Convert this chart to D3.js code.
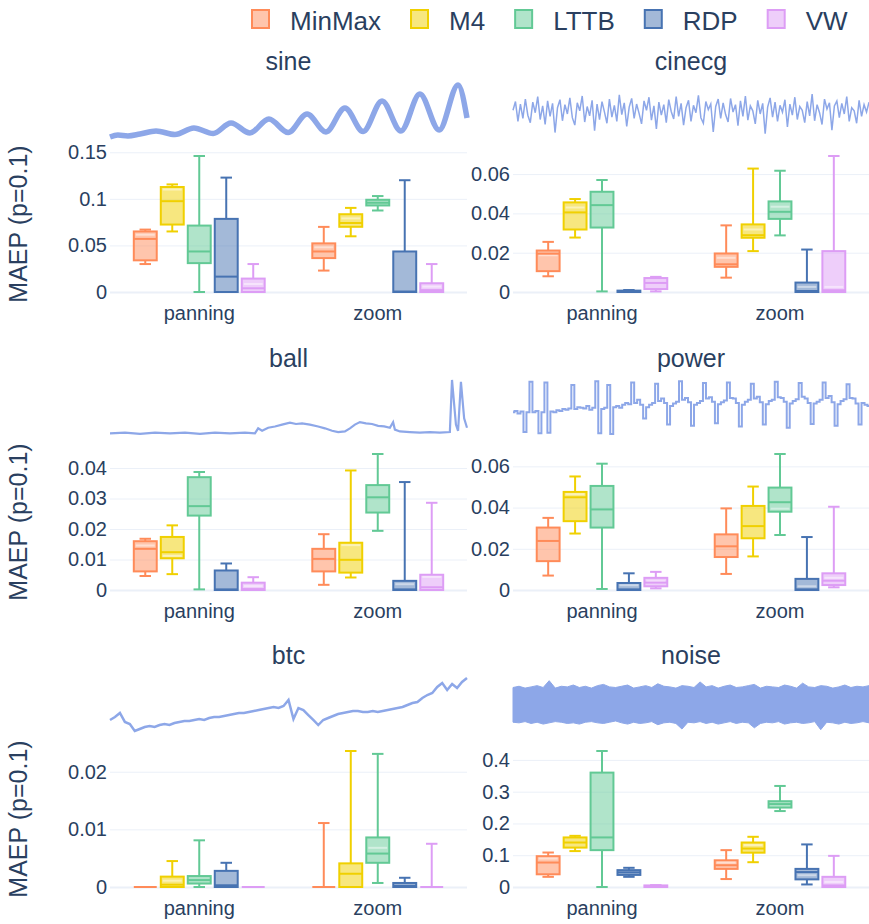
<!DOCTYPE html>
<html>
<head>
<meta charset="utf-8">
<script src="https://cdn.jsdelivr.net/npm/d3@7"></script>
<style>
  body { margin: 0; background: #fff; }
  text { font-family: "Liberation Sans", Arial, sans-serif; fill: #2a3f5f; }
</style>
</head>
<body>
<svg id="chart" width="869" height="924"></svg>
<script>
const methods = ["MinMax", "M4", "LTTB", "RDP", "VW"]
const colors = ["#ff8b59", "#f0d000", "#62c995", "#4773b2", "#dd9df5"]
const modes = ["panning", "zoom"]
const datasets = ["sine", "cinecg", "ball", "power", "btc", "noise"]

// box stats per method: [low, q1, median, q3, high, mean]
const sinePanning = [
    [0.030, 0.034, 0.057, 0.065, 0.067, 0.0615],
    [0.065, 0.0724, 0.0975, 0.1127, 0.1155, 0.110],
    [0, 0.031, 0.0435, 0.0713, 0.146, null],
    [0, 0, 0.0165, 0.0785, 0.1228, null],
    [0, 0, 0.004, 0.0144, 0.030, 0.0086]
]
const sineZoom = [
    [0.023, 0.0364, 0.0435, 0.0522, 0.0699, 0.048],
    [0.0598, 0.070, 0.0741, 0.0835, 0.0903, 0.079],
    [0.0875, 0.0929, 0.0958, 0.099, 0.103, null],
    [0, 0, 0.0005, 0.0435, 0.120, null],
    [0, 0, 0.002, 0.0094, 0.030, 0.0058]
]
const cinecgPanning = [
    [0.008, 0.0106, 0.0195, 0.0211, 0.0255, 0.0187],
    [0.0277, 0.0318, 0.0405, 0.0456, 0.0473, 0.043],
    [0.0003, 0.0328, 0.0442, 0.051, 0.057, null],
    [0, 0, 0.0002, 0.0007, 0.001, null],
    [0.0003, 0.0015, 0.0046, 0.0071, 0.0077, null]
]
const cinecgZoom = [
    [0.0073, 0.0128, 0.0141, 0.0196, 0.0339, 0.0174],
    [0.0208, 0.0276, 0.0289, 0.0344, 0.0628, 0.0318],
    [0.0288, 0.0372, 0.0408, 0.0461, 0.0617, 0.0434],
    [0, 0, 0.0005, 0.0048, 0.0216, 0.0026],
    [0, 0, 0.0009, 0.0208, 0.0692, 0.0026]
]
const ballPanning = [
    [0.0046, 0.0061, 0.0135, 0.0160, 0.0168, 0.0146],
    [0.0052, 0.0104, 0.0124, 0.0174, 0.0212, 0.0112],
    [0.0002, 0.0244, 0.0275, 0.0370, 0.0387, null],
    [0, 0, 0.0002, 0.0064, 0.0087, null],
    [0, 0, 0.0003, 0.0024, 0.0042, 0.0013]
]
const ballZoom = [
    [0.0017, 0.0061, 0.0102, 0.0135, 0.0183, null],
    [0.0041, 0.0057, 0.0099, 0.0155, 0.0392, 0.0147],
    [0.0194, 0.0254, 0.0304, 0.0344, 0.0446, null],
    [0, 0, 0.0002, 0.0030, 0.0354, 0.0019],
    [0, 0, 0.0009, 0.0050, 0.0286, 0.0043]
]
const powerPanning = [
    [0.0070, 0.0140, 0.0238, 0.0303, 0.035, null],
    [0.0274, 0.0334, 0.045, 0.0476, 0.0551, 0.0465],
    [0.0005, 0.0303, 0.0391, 0.0505, 0.0613, null],
    [0, 0, 0.0003, 0.0034, 0.0081, 0.0023],
    [0.0008, 0.0018, 0.0036, 0.0059, 0.0088, 0.0042]
]
const powerZoom = [
    [0.0078, 0.016, 0.0212, 0.027, 0.0396, null],
    [0.0163, 0.0251, 0.031, 0.0408, 0.0502, null],
    [0.0267, 0.038, 0.0426, 0.0497, 0.066, 0.0395],
    [0, 0, 0.0003, 0.0054, 0.0257, 0.0018],
    [0.0013, 0.0024, 0.0045, 0.0081, 0.0404, 0.0059]
]
const btcPanning = [
    [0, 0, 0, 0, 0, null],
    [0, 0, 0.0004, 0.0018, 0.0045, 0.0011],
    [0, 0.0006, 0.0012, 0.0019, 0.0081, null],
    [0, 0, 0.0003, 0.0028, 0.0042, null],
    [0, 0, 0, 0, 0, null]
]
const btcZoom = [
    [0, 0, 0, 0, 0.0111, null],
    [0, 0, 0.0023, 0.0041, 0.0236, null],
    [0.0007, 0.0042, 0.0058, 0.0086, 0.0231, 0.0068],
    [0, 0, 0.0002, 0.0007, 0.0016, null],
    [0, 0, 0, 0, 0.0075, null]
]
const noisePanning = [
    [0.032, 0.040, 0.077, 0.097, 0.1085, 0.0897],
    [0.113, 0.124, 0.14, 0.156, 0.161, null],
    [0, 0.116, 0.156, 0.360, 0.428, null],
    [0.032, 0.038, 0.046, 0.0531, 0.0604, null],
    [0, 0, 0.002, 0.005, 0.006, null]
]
const noiseZoom = [
    [0.025, 0.057, 0.0685, 0.084, 0.116, 0.077],
    [0.078, 0.108, 0.121, 0.140, 0.158, 0.132],
    [0.239, 0.250, 0.261, 0.270, 0.318, null],
    [0.008, 0.024, 0.047, 0.057, 0.134, 0.037],
    [0, 0, 0.005, 0.032, 0.098, 0.016]
]

const sineTicks = [0, 0.05, 0.1, 0.15]
const cinecgTicks = [0, 0.02, 0.04, 0.06]
const ballTicks = [0, 0.01, 0.02, 0.03, 0.04]
const powerTicks = [0, 0.02, 0.04, 0.06]
const btcTicks = [0, 0.01, 0.02]
const noiseTicks = [0, 0.1, 0.2, 0.3, 0.4]

// signal thumbnails (time in % of the series, value 0-100 of the thumbnail height)
const sineT = [0, 2.2, 5, 8.4, 12.9, 18.2, 23.5, 28.9, 33.9, 39.2, 44.5, 49.9, 55.2, 60.5, 65.8, 70.9, 76.2, 81.5, 86.8, 92.2, 97.5, 100]
const sineV = [4.8, 8, 6.5, 9.7, 14.5, 8.9, 19.4, 10.5, 27.4, 11.3, 33.9, 12.1, 41.9, 12.9, 51.6, 13.7, 62.9, 14.5, 74.2, 16.1, 88.7, 35.5]

const cinecgV = [48, 62, 30, 58, 35, 66, 40, 28, 61, 44, 70, 33, 55, 25, 63, 38, 59, 12, 52, 65, 31, 57, 42, 68, 36, 24, 60, 47, 71, 29,
    54, 39, 64, 15, 58, 33, 62, 45, 27, 66, 37, 56, 30, 73, 41, 60, 22, 53, 67, 35, 58, 43, 26, 63, 48, 69, 32, 55, 18, 61,
    40, 57, 28, 65, 46, 34, 70, 38, 59, 24, 52, 64, 30, 56, 44, 72, 36, 27, 62, 49, 58, 13, 54, 66, 35, 60, 41, 29, 67, 45,
    57, 23, 63, 38, 71, 32, 55, 47, 26, 64, 42, 59, 10, 53, 68, 37, 61, 30, 56, 45, 65, 21, 58, 40, 69, 33, 54, 48, 28, 62,
    39, 74, 31, 57, 44, 25, 66, 50, 60, 16, 55, 63, 36, 59, 42, 70, 30, 52, 47, 27, 64, 38, 57, 45, 61]

const ballT = [0, 4.2, 8.4, 12.6, 16.8, 21, 25.2, 29.4, 33.6, 37.8, 40.6, 41.5, 42.6, 44.3, 46.2, 48.2, 50.4, 52.1, 53.8, 56,
    58.3, 60.2, 62.2, 63.9, 65.8, 67.2, 68.6, 70, 71.7, 73.4, 75.1, 76.8, 78.4, 79.3, 79.8, 81.2, 84, 86.8, 89.6, 92.4,
    95.2, 95.8, 96.9, 97.5, 98.3, 99.2, 100]
const ballV = [6, 7, 5, 7, 6, 7, 5, 7, 6, 7, 6, 14, 10, 15, 17, 20, 23, 21, 22, 20,
    17, 14, 10, 8, 9, 14, 20, 24, 22, 21, 18, 17, 15, 24, 12, 9, 8, 7, 8, 7,
    8, 92, 20, 10, 89, 30, 15]

const powerV = [40, 42, 38, 41, 8, 40, 89, 40, 42, 6, 40, 88, 7, 41, 40, 43, 42, 45, 44, 46,
    84, 45, 48, 47, 46, 50, 44, 47, 90, 6, 45, 47, 84, 5, 48, 50, 47, 52, 55, 53,
    88, 55, 60, 52, 30, 48, 52, 55, 86, 58, 62, 55, 20, 50, 54, 57, 90, 60, 63, 56,
    18, 52, 55, 58, 87, 62, 64, 57, 22, 53, 56, 59, 88, 63, 62, 55, 17, 52, 57, 60,
    86, 62, 65, 56, 20, 53, 58, 60, 89, 64, 63, 57, 15, 54, 58, 61, 87, 65, 62, 55,
    21, 54, 57, 60, 88, 63, 66, 56, 18, 53, 58, 61, 85, 63, 62, 54, 20, 55, 52, 50]

const btcV = [22.6, 27.4, 33.9, 19.4, 16.1, 4.8, 8.1, 11.3, 12.9, 11.3, 14.5, 16.1, 14.5, 17.7, 19.4, 21, 21, 22.6, 24.2, 22.6,
    25.8, 27.4, 27.4, 29, 30.6, 32.3, 33.9, 33.9, 35.5, 37.1, 38.7, 40.3, 41.9, 43.5, 41.9, 45.2, 54.8, 24.2, 41.9, 38.7,
    30.6, 22.6, 14.5, 22.6, 25.8, 29, 32.3, 33.9, 35.5, 37.1, 37.1, 35.5, 35.5, 37.1, 35.5, 37.1, 38.7, 40.3, 41.9, 43.5,
    46.8, 50, 51.6, 58.1, 62.9, 66.1, 75.8, 82.3, 71, 80.6, 74.2, 83.9, 90.3]

const noiseUpper = [75, 77, 74, 76, 78, 75, 86, 74, 77, 76, 79, 75, 77, 74, 78, 80, 76, 75, 77, 79, 74, 76, 78, 75, 81, 77, 76, 74, 78, 77,
    75, 84, 76, 78, 74, 77, 79, 75, 76, 78, 80, 74, 77, 76, 75, 79, 77, 74, 82, 76, 75, 78, 77, 74, 76, 79, 75, 77, 76, 78]
const noiseLower = [19, 18, 20, 17, 19, 16, 18, 20, 19, 17, 18, 16, 19, 20, 18, 17, 19, 21, 18, 16, 19, 17, 18, 20, 15, 18, 19, 17, 8, 19,
    18, 20, 17, 19, 16, 18, 20, 17, 19, 18, 10, 17, 19, 18, 20, 16, 18, 19, 17, 18, 20, 7, 19, 18, 16, 19, 17, 18, 20, 18]

const sigColor = "#8da7e8"
const colX = [[110, 467], [513, 869]]
const rowBox = [[151, 297], [449, 595], [746, 892]]
const rowThumb = [[78, 140], [375, 437], [672, 734]]

const svg = d3.select("#chart")

const panels = [
    { stats: [sinePanning, sineZoom], ticks: sineTicks },
    { stats: [cinecgPanning, cinecgZoom], ticks: cinecgTicks },
    { stats: [ballPanning, ballZoom], ticks: ballTicks },
    { stats: [powerPanning, powerZoom], ticks: powerTicks },
    { stats: [btcPanning, btcZoom], ticks: btcTicks },
    { stats: [noisePanning, noiseZoom], ticks: noiseTicks }
]

const drawSignal = (name, g, xs, ys) => {
    if (name === "sine") {
        const t = d3.scaleLinear().domain([0, 100]).range(xs)
        g.append("path").datum(sineT.map((d, i) => [d, sineV[i]]))
            .attr("d", d3.line().x(d => t(d[0])).y(d => ys(d[1])).curve(d3.curveMonotoneX))
            .attr("fill", "none").attr("stroke", sigColor).attr("stroke-width", 5.5)
    } else if (name === "cinecg") {
        const t = d3.scaleLinear().domain([0, cinecgV.length - 1]).range(xs)
        g.append("path").datum(cinecgV)
            .attr("d", d3.line().x((d, i) => t(i)).y(d => ys(d)))
            .attr("fill", "none").attr("stroke", sigColor).attr("stroke-width", 1.5)
    } else if (name === "ball") {
        const t = d3.scaleLinear().domain([0, 100]).range(xs)
        g.append("path").datum(ballT.map((d, i) => [d, ballV[i]]))
            .attr("d", d3.line().x(d => t(d[0])).y(d => ys(d[1])))
            .attr("fill", "none").attr("stroke", sigColor).attr("stroke-width", 2.2)
    } else if (name === "power") {
        const t = d3.scaleLinear().domain([0, powerV.length - 1]).range(xs)
        g.append("path").datum(powerV)
            .attr("d", d3.line().x((d, i) => t(i)).y(d => ys(d)).curve(d3.curveStep))
            .attr("fill", "none").attr("stroke", sigColor).attr("stroke-width", 2)
    } else if (name === "btc") {
        const t = d3.scaleLinear().domain([0, btcV.length - 1]).range(xs)
        g.append("path").datum(btcV)
            .attr("d", d3.line().x((d, i) => t(i)).y(d => ys(d)))
            .attr("fill", "none").attr("stroke", sigColor).attr("stroke-width", 2.5)
    } else if (name === "noise") {
        const t = d3.scaleLinear().domain([0, noiseUpper.length - 1]).range(xs)
        g.append("path").datum(noiseUpper)
            .attr("d", d3.area().x((d, i) => t(i)).y0((d, i) => ys(noiseLower[i])).y1(d => ys(d)))
            .attr("fill", sigColor).attr("stroke", sigColor).attr("stroke-width", 1)
    }
}

panels.forEach((p, idx) => {
    const col = idx % 2
    const row = Math.floor(idx / 2)
    const [x0, x1] = colX[col]
    const [top, bottom] = rowBox[row]
    const g = svg.append("g")

    // title
    g.append("text").attr("x", (x0 + x1) / 2).attr("y", 70 + 297 * row)
        .attr("text-anchor", "middle").style("font-size", "25px").text(datasets[idx])

    // signal thumbnail
    const [tt, tb] = rowThumb[row]
    drawSignal(datasets[idx], g, [x0, x1], d3.scaleLinear().domain([0, 100]).range([tb, tt]))

    const maxV = d3.max(p.stats.flat(), d => d[4])
    const pad = maxV * 5 / (bottom - top - 10)
    const y = d3.scaleLinear().domain([-pad, maxV + pad]).range([bottom, top])

    // grid
    const grid = g.append("g").attr("transform", `translate(${x0},0)`)
        .call(d3.axisLeft(y).tickValues(p.ticks).tickSize(-(x1 - x0)).tickFormat(""))
    grid.select(".domain").remove()
    grid.selectAll("line").attr("stroke", "#ebf0f8")
        .attr("stroke-width", d => d === 0 ? 2 : 1)

    const yAxis = g.append("g").attr("transform", `translate(${x0 - 3},0)`)
        .call(d3.axisLeft(y).tickValues(p.ticks).tickSize(0).tickPadding(0).tickFormat(d3.format("~g")))
    yAxis.select(".domain").remove()
    yAxis.selectAll("text").style("font-size", "20px").attr("fill", "#2a3f5f")

    const xOuter = d3.scaleBand().domain(modes).range([x0, x1]).paddingInner(0.244).paddingOuter(0.122)
    const xInner = d3.scaleBand().domain(methods).range([0, xOuter.bandwidth()]).paddingInner(0.15).paddingOuter(0.075)

    const xAxis = g.append("g").attr("transform", `translate(0,${bottom})`)
        .call(d3.axisBottom(xOuter).tickSize(0).tickPadding(9))
    xAxis.select(".domain").remove()
    xAxis.selectAll("text").style("font-size", "20px").attr("fill", "#2a3f5f")

    if (col === 0) {
        g.append("text").attr("transform", `translate(27,${(top + bottom) / 2}) rotate(-90)`)
            .attr("text-anchor", "middle").style("font-size", "25px").text("MAEP (p=0.1)")
    }

    // boxes
    modes.forEach((mode, mi) => {
        p.stats[mi].forEach((s, k) => {
            const [lo, q1, med, q3, hi, mean] = s
            const bw = xInner.bandwidth()
            const bx = xOuter(mode) + xInner(methods[k])
            const cx = bx + bw / 2
            const c = colors[k]
            const bg = g.append("g").attr("stroke", c).attr("stroke-width", 2).attr("fill", "none")
            bg.append("line").attr("x1", cx).attr("x2", cx).attr("y1", y(hi)).attr("y2", y(q3))
            bg.append("line").attr("x1", cx).attr("x2", cx).attr("y1", y(q1)).attr("y2", y(lo))
            bg.append("line").attr("x1", cx - bw / 4).attr("x2", cx + bw / 4).attr("y1", y(hi)).attr("y2", y(hi))
            bg.append("line").attr("x1", cx - bw / 4).attr("x2", cx + bw / 4).attr("y1", y(lo)).attr("y2", y(lo))
            bg.append("rect").attr("x", bx).attr("width", bw).attr("y", y(q3)).attr("height", y(q1) - y(q3))
                .attr("fill", c).attr("fill-opacity", 0.5)
            if (mean !== null) {
                bg.append("line").attr("x1", bx + 2).attr("x2", bx + bw - 2).attr("y1", y(mean)).attr("y2", y(mean))
                    .attr("stroke", "rgba(255,255,255,0.45)")
            }
            bg.append("line").attr("x1", bx).attr("x2", bx + bw).attr("y1", y(med)).attr("y2", y(med))
        })
    })
})

// legend
let lx = 252
methods.forEach((m, k) => {
    const lg = svg.append("g")
    lg.append("rect").attr("x", lx).attr("y", 10).attr("width", 17).attr("height", 18)
        .attr("fill", colors[k]).attr("fill-opacity", 0.5).attr("stroke", colors[k]).attr("stroke-width", 2)
    const t = lg.append("text").attr("x", lx + 38).attr("y", 30).style("font-size", "26px").text(m)
    lx = lx + 38 + t.node().getComputedTextLength() + 30
})
</script>
</body>
</html>
